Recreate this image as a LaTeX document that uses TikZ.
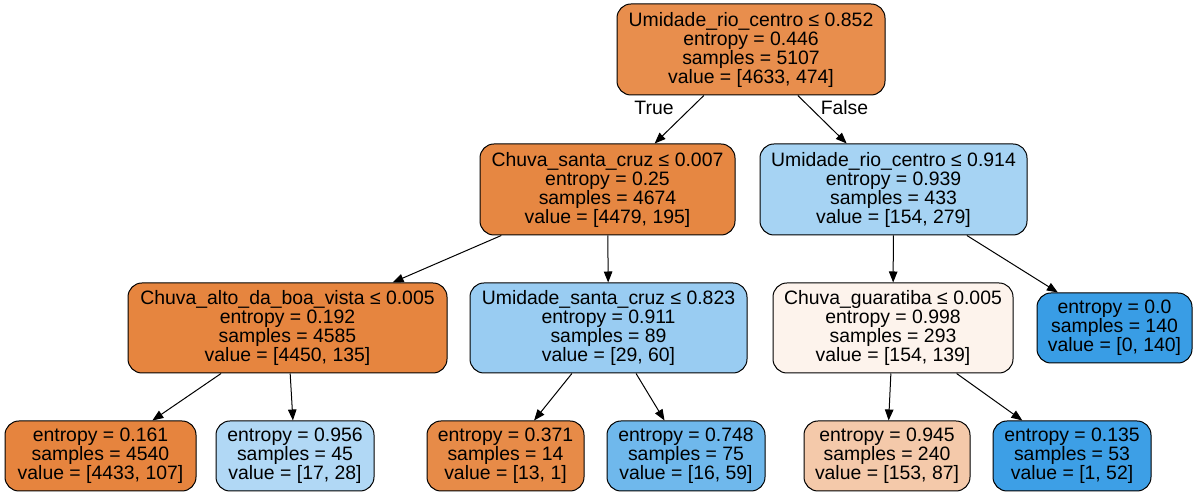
\documentclass[tikz,border=0pt]{standalone}
\usepackage{fontspec}
\setmainfont{Liberation Sans}
\usetikzlibrary{arrows.meta}
\definecolor{c0}{RGB}{232,142,77}
\definecolor{c1}{RGB}{230,135,66}
\definecolor{c2}{RGB}{166,211,243}
\definecolor{c3}{RGB}{230,133,63}
\definecolor{c4}{RGB}{153,204,242}
\definecolor{c5}{RGB}{253,243,236}
\definecolor{c6}{RGB}{57,157,229}
\definecolor{l1}{RGB}{230,132,62}
\definecolor{l2}{RGB}{177,216,245}
\definecolor{l3}{RGB}{231,139,72}
\definecolor{l4}{RGB}{111,184,236}
\definecolor{l5}{RGB}{244,201,170}
\definecolor{l6}{RGB}{61,159,230}
\tikzset{
  tnode/.style={draw, line width=1pt, rounded corners=14pt, inner sep=0pt, align=center,
    font=\fontsize{19.4}{19}\selectfont},
  inner4/.style={tnode, minimum height=91pt},
  leaf3/.style={tnode, minimum height=70pt},
  edge/.style={line width=1pt, -{Triangle[length=11pt,width=8.5pt]}},
  elabel/.style={font=\fontsize{19.4}{19}\selectfont, inner sep=0pt}
}
\begin{document}
\begin{tikzpicture}[x=1pt,y=1pt]
\useasboundingbox (0,0) rectangle (1197,497);
% level 0
\node[inner4, fill=c0, minimum width=268pt] (n0) at (751,447.5) {Umidade\_rio\_centro ≤ 0.852\\entropy = 0.446\\samples = 5107\\value = [4633, 474]};
% level 1
\node[inner4, fill=c1, minimum width=255pt] (n1) at (607.5,307.5) {Chuva\_santa\_cruz ≤ 0.007\\entropy = 0.25\\samples = 4674\\value = [4479, 195]};
\node[inner4, fill=c2, minimum width=267pt] (n2) at (893.5,307.5) {Umidade\_rio\_centro ≤ 0.914\\entropy = 0.939\\samples = 433\\value = [154, 279]};
% level 2
\node[inner4, fill=c3, minimum width=319pt, minimum height=90pt] (n3) at (287.5,169) {Chuva\_alto\_da\_boa\_vista ≤ 0.005\\entropy = 0.192\\samples = 4585\\value = [4450, 135]};
\node[inner4, fill=c4, minimum width=277pt, minimum height=90pt] (n4) at (608.5,169) {Umidade\_santa\_cruz ≤ 0.823\\entropy = 0.911\\samples = 89\\value = [29, 60]};
\node[inner4, fill=c5, minimum width=240pt, minimum height=90pt] (n5) at (893,169) {Chuva\_guaratiba ≤ 0.005\\entropy = 0.998\\samples = 293\\value = [154, 139]};
\node[leaf3, fill=c6, minimum width=155pt] (n6) at (1114.5,169) {entropy = 0.0\\samples = 140\\value = [0, 140]};
% level 3
\node[leaf3, fill=l1, minimum width=191pt] (m1) at (100.5,41) {entropy = 0.161\\samples = 4540\\value = [4433, 107]};
\node[leaf3, fill=l2, minimum width=158pt] (m2) at (295,41) {entropy = 0.956\\samples = 45\\value = [17, 28]};
\node[leaf3, fill=l3, minimum width=157pt] (m3) at (505.5,41) {entropy = 0.371\\samples = 14\\value = [13, 1]};
\node[leaf3, fill=l4, minimum width=158pt] (m4) at (686,41) {entropy = 0.748\\samples = 75\\value = [16, 59]};
\node[leaf3, fill=l5, minimum width=166pt] (m5) at (887,41) {entropy = 0.945\\samples = 240\\value = [153, 87]};
\node[leaf3, fill=l6, minimum width=158pt] (m6) at (1072,41) {entropy = 0.135\\samples = 53\\value = [1, 52]};
% edges
\draw[edge] (n0) -- (n1);
\draw[edge] (n0) -- (n2);
\draw[edge] (n1) -- (n3);
\draw[edge] (n1) -- (n4);
\draw[edge] (n2) -- (n5);
\draw[edge] (n2) -- (n6);
\draw[edge] (n3) -- (m1);
\draw[edge] (n3) -- (m2);
\draw[edge] (n4) -- (m3);
\draw[edge] (n4) -- (m4);
\draw[edge] (n5) -- (m5);
\draw[edge] (n5) -- (m6);
% labels
\node[elabel] (tl) at (654,389) {True};
\node[elabel] (fl) at (844.5,389) {False};
\end{tikzpicture}
\end{document}
